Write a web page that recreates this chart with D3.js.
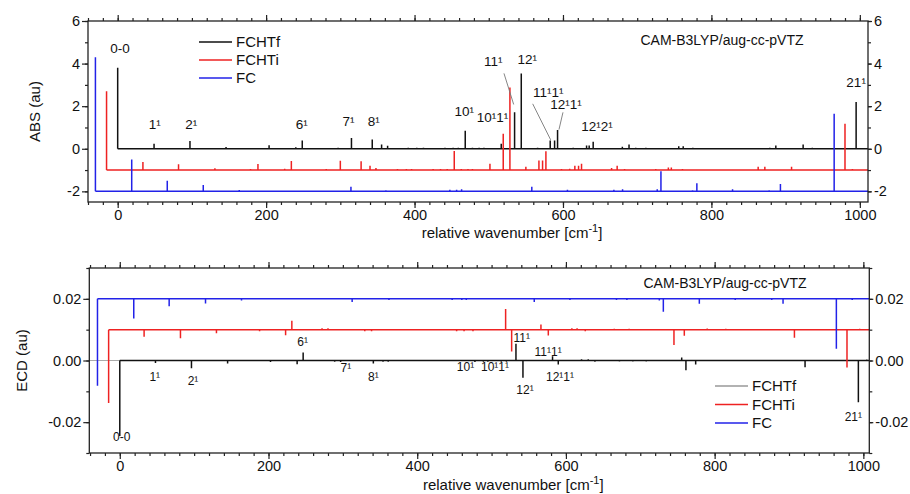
<!DOCTYPE html>
<html>
<head>
<meta charset="utf-8">
<script src="https://cdn.jsdelivr.net/npm/d3@7"></script>
<style>
  body { margin: 0; background: #fff; }
  svg text { font-family: "Liberation Sans", Arial, sans-serif; fill: #111; }
</style>
</head>
<body>
<svg id="chart" width="910" height="494"></svg>
<script>
// ---- series meta ----
const seriesNames = ["FCHTf", "FCHTi", "FC"];
const seriesColors = ["#111111", "#ee2222", "#2222e8"];
const legendColors = [["#111111", "#ee2222", "#2222e8"], ["#999999", "#ee2222", "#2222e8"]];
const seriesShift = [0, -15, -30];          // horizontal offset of each stick spectrum (cm-1)
const absBaseline = [0, -1, -2];            // vertical offset, ABS panel
const ecdBaseline = [0, 0.01, 0.02];        // vertical offset, ECD panel

// ---- ABS stick spectra: [wavenumber, intensity] ----
const absFCHTf = [[0,3.8],[49,0.23],[97.4,0.36],[146,0.08],[204,0.17],[240,0.07],[248.7,0.39],[297,0.05],[315,0.5],[343,0.44],[355.6,0.2],[363.7,0.14],[391.5,0.05],[403,0.05],[412,0.05],[441,0.05],[452,0.05],[459,0.05],[468.3,0.85],[478,0.05],[487,0.05],[493.5,0.05],[516.8,0.24],[534.8,1.72],[543.8,3.54],[565.8,0.05],[582.8,0.39],[588.7,0.39],[592.7,0.88],[613.8,0.05],[631.8,0.15],[635.3,0.15],[640.7,0.33],[680,0.1],[689,0.2],[698,0.05],[711.7,0.05],[756,0.12],[762,0.12],[775,0.05],[878.7,0.05],[886.8,0.15],[923.6,0.2],[936,0.05],[995,2.2]];
const absFCHTi = [[0,3.7],[49,0.38],[97,0.27],[146,0.08],[194,0.05],[204,0.28],[240,0.06],[249,0.42],[296,0.05],[315,0.44],[343,0.41],[355,0.2],[363,0.1],[392,0.05],[404,0.05],[411,0.05],[440,0.05],[450,0.05],[459,0.05],[468.5,0.9],[478,0.05],[487,0.05],[493,0.05],[516.6,0.3],[534.5,1.7],[543.5,3.88],[565,0.15],[582.6,0.45],[587.5,0.45],[592,0.88],[613,0.05],[624,0.06],[631,0.2],[636,0.2],[640,0.3],[680.5,0.1],[688,0.2],[698,0.05],[740,0.05],[757,0.12],[761,0.12],[776,0.05],[878,0.15],[887,0.15],[923,0.15],[995,2.17],[1005,0.05]];
const absFC = [[0,6.3],[48.9,1.5],[96.8,0.5],[145.3,0.3],[193.8,0.06],[246,0.04],[344.3,0.22],[391.4,0.05],[477.6,0.07],[486.7,0.07],[493.4,0.1],[588,0.22],[636,0.08],[698.6,0.08],[710.3,0.1],[757,0.1],[762,0.94],[804.6,0.05],[810.4,0.38],[858.5,0.1],[907.8,0.05],[923,0.35],[995.4,3.65],[1010,0.03]];

// ---- ECD stick spectra: [wavenumber, rotatory strength] ----
const ecdFCHTf = [[0,-0.0245],[48,-0.0008],[96.4,-0.0025],[145,-0.001],[202.7,-0.0005],[238.5,-0.0012],[246.6,0.0026],[289,-0.0004],[297,-0.0005],[341,-0.001],[354,-0.0004],[361,-0.0004],[477.6,-0.0005],[489,-0.0004],[495,-0.0004],[513,-0.0004],[520,-0.0004],[532.8,0.0054],[542.2,-0.0056],[582,0.0014],[589.7,-0.0013],[621,0.0004],[630,0.0004],[639,-0.0004],[672,-0.0003],[690,-0.0003],[708,-0.0003],[755.7,0.001],[761.4,-0.0032],[774.5,-0.0013],[921.6,-0.0022],[993.3,-0.0135],[1004.6,0.0003]];
const ecdFCHTi = [[0,-0.0238],[47.7,-0.0023],[96.6,-0.0028],[145,-0.0012],[203,-0.0005],[238,-0.0018],[246.4,0.0029],[287,0.0005],[295,0.0005],[344.5,-0.0005],[353.6,-0.0005],[468,-0.0005],[478,-0.0005],[490,-0.0005],[533.9,0.0067],[542,-0.0071],[581.4,0.0017],[591.3,-0.0019],[623,0.0005],[630,0.0005],[641,-0.0005],[680,0.0003],[700,0.0003],[760.3,-0.005],[774.2,-0.002],[805,0.0004],[830,0.0003],[922.3,-0.0026],[993,-0.0123],[1010,0.0003]];
const ecdFC = [[0,-0.0282],[48.8,-0.0064],[96.4,-0.0024],[145.3,-0.0015],[193.7,-0.0005],[342.5,-0.001],[392,-0.0004],[477,-0.0004],[490,-0.0004],[496,-0.0004],[587.4,-0.001],[635.4,-0.0004],[698,-0.0004],[712,-0.0004],[755.6,-0.0005],[761,-0.0042],[809.4,-0.0016],[857.7,-0.0004],[906.8,-0.0004],[922,-0.0016],[993.7,-0.0162],[1015,-0.0004]];

// ---- band assignments: [text, wavenumber, value] (text baseline in data units) ----
const absLabels = [["0-0",3,4.5],["1¹",50,0.95],["2¹",99,0.95],["6¹",248,0.95],["7¹",311,1.08],["8¹",345,1.08],["10¹",467,1.56],["10¹1¹",505,1.24],["11¹",506,3.88],["12¹",552,3.96],["11¹1¹",580,2.42],["12¹1¹",604,1.87],["12¹2¹",646,0.85],["21¹",995,2.91]];
const absLeaders = [[520.5,3.54,533.6,2.08],[559.2,2.11,583.4,0.42],[600,1.71,594.6,0.9]];
const ecdLabels = [["0-0",2.5,-0.0261],["1¹",47,-0.0066],["2¹",98.5,-0.0079],["6¹",246,0.0048],["7¹",304,-0.0038],["8¹",341,-0.0066],["10¹",465,-0.0035],["10¹1¹",504.6,-0.0035],["11¹",540.5,0.0059],["12¹",545,-0.0109],["11¹1¹",576,0.0015],["12¹1¹",592,-0.0068],["21¹",986.5,-0.0196]];

// ---- axis ticks ----
const xMajorTicks = [0, 200, 400, 600, 800, 1000];
const xMinorTicks = d3.range(-40, 1020, 20);
const absMajorTicks = [-2, 0, 2, 4, 6];
const absMinorTicks = d3.range(-2, 7, 1);
const ecdMajorTicks = [-0.02, 0, 0.02];
const ecdMinorTicks = [-0.03, -0.02, -0.01, 0, 0.01, 0.02, 0.03];
const methodLabel = "CAM-B3LYP/aug-cc-pVTZ";

// plain hyphen-minus for negative tick labels
const hyphenate = f => d => f(d).replace("\u2212", "-");

const svg = d3.select("#chart");

function drawPanel(cfg) {
  const g = svg.append("g");
  const x = d3.scaleLinear().domain(cfg.xDomain).range(cfg.xRange);
  const y = d3.scaleLinear().domain(cfg.yDomain).range(cfg.yRange);
  const [x0, x1] = cfg.xRange, [yb, yt] = cfg.yRange;

  const clipId = "clip-" + cfg.id;
  svg.append("clipPath").attr("id", clipId)
    .append("rect").attr("x", x0).attr("y", yt).attr("width", x1 - x0).attr("height", yb - yt);

  const plot = g.append("g").attr("clip-path", `url(#${clipId})`);

  if (cfg.zeroLine) {
    plot.append("line").attr("x1", x0).attr("x2", x1)
      .attr("y1", y(0)).attr("y2", y(0))
      .attr("stroke", "#aaaaaa").attr("stroke-width", 1.2);
  }

  // stick spectra: black first, then red, then blue on top
  cfg.series.forEach((data, i) => {
    const base = cfg.baselines[i];
    const sh = seriesShift[i];
    const p = d3.path();
    p.moveTo(x(sh), y(base));
    p.lineTo(x(cfg.xDomain[1]) + 5, y(base));
    data.forEach(([wn, v]) => {
      p.moveTo(x(wn + sh), y(base));
      p.lineTo(x(wn + sh), y(base + v));
    });
    plot.append("path").attr("d", p.toString())
      .attr("fill", "none").attr("stroke", seriesColors[i])
      .attr("stroke-width", 1.5).attr("stroke-linecap", "butt");
  });

  // frame
  g.append("rect").attr("x", x0).attr("y", yt).attr("width", x1 - x0).attr("height", yb - yt)
    .attr("fill", "none").attr("stroke", "#222").attr("stroke-width", 1.3);

  const styleAxis = sel => {
    sel.select(".domain").remove();
    sel.selectAll("line").attr("stroke", "#222").attr("stroke-width", 1.2);
    sel.selectAll("text").style("font-size", "14.5px").attr("fill", "#111");
  };

  // x axes (bottom labelled, top mirrored)
  g.append("g").attr("transform", `translate(0,${yb})`)
    .call(d3.axisBottom(x).tickValues(xMinorTicks).tickSize(3).tickFormat("")).call(styleAxis);
  g.append("g").attr("transform", `translate(0,${yb})`)
    .call(d3.axisBottom(x).tickValues(xMajorTicks).tickSize(6).tickPadding(2).tickFormat(d3.format("d"))).call(styleAxis);
  g.append("g").attr("transform", `translate(0,${yt})`)
    .call(d3.axisTop(x).tickValues(xMinorTicks).tickSize(3).tickFormat("")).call(styleAxis);
  g.append("g").attr("transform", `translate(0,${yt})`)
    .call(d3.axisTop(x).tickValues(xMajorTicks).tickSize(6).tickFormat("")).call(styleAxis);

  // y axes (left and right, both labelled)
  g.append("g").attr("transform", `translate(${x0},0)`)
    .call(d3.axisLeft(y).tickValues(cfg.yMinor).tickSize(3).tickFormat("")).call(styleAxis);
  g.append("g").attr("transform", `translate(${x0},0)`)
    .call(d3.axisLeft(y).tickValues(cfg.yMajor).tickSize(6).tickPadding(2).tickFormat(cfg.yFormat)).call(styleAxis);
  g.append("g").attr("transform", `translate(${x1},0)`)
    .call(d3.axisRight(y).tickValues(cfg.yMinor).tickSize(3).tickFormat("")).call(styleAxis);
  g.append("g").attr("transform", `translate(${x1},0)`)
    .call(d3.axisRight(y).tickValues(cfg.yMajor).tickSize(4).tickPadding(2).tickFormat(cfg.yFormat)).call(styleAxis);

  // axis titles
  g.append("text").attr("transform", `translate(${cfg.yTitleX},${(yb + yt) / 2}) rotate(-90)`)
    .attr("text-anchor", "middle").style("font-size", "15px").text(cfg.yTitle);
  const xt = g.append("text").attr("x", (x0 + x1) / 2 + 34).attr("y", cfg.xTitleY)
    .attr("text-anchor", "middle").style("font-size", "15px");
  xt.append("tspan").text("relative wavenumber [cm");
  xt.append("tspan").attr("dy", -6).style("font-size", "11px").text("-1");
  xt.append("tspan").attr("dy", 6).text("]");

  // method label
  g.append("text").attr("x", cfg.methodX).attr("y", cfg.methodY)
    .attr("text-anchor", "middle").style("font-size", "14px").text(methodLabel);

  // leader lines
  (cfg.leaders || []).forEach(([a, b, c, d]) => {
    g.append("line").attr("x1", x(a)).attr("y1", y(b)).attr("x2", x(c)).attr("y2", y(d))
      .attr("stroke", "#777").attr("stroke-width", 0.9);
  });

  // band labels
  cfg.labels.forEach(([t, wn, v]) => {
    g.append("text").attr("x", x(wn)).attr("y", y(v))
      .attr("text-anchor", "middle").style("font-size", cfg.labelSize).text(t);
  });

  // legend
  const lg = g.append("g");
  seriesNames.forEach((name, i) => {
    const ly = cfg.legendY + i * cfg.legendGap;
    lg.append("line").attr("x1", cfg.legendX).attr("x2", cfg.legendX + 33)
      .attr("y1", ly).attr("y2", ly)
      .attr("stroke", cfg.legendColors[i]).attr("stroke-width", 1.5);
    lg.append("text").attr("x", cfg.legendX + 37).attr("y", ly + 5)
      .style("font-size", "15px").text(name);
  });
}

drawPanel({
  id: "abs",
  xDomain: [-40, 1011], xRange: [88, 868],
  yDomain: [-2.5, 6], yRange: [202, 21],
  yMajor: absMajorTicks, yMinor: absMinorTicks, yFormat: hyphenate(d3.format("d")),
  series: [absFCHTf, absFCHTi, absFC], baselines: absBaseline,
  yTitle: "ABS (au)", yTitleX: 40, xTitleY: 238,
  methodX: 722, methodY: 45,
  labels: absLabels, labelSize: "13.5px", leaders: absLeaders,
  legendX: 199, legendY: 42, legendGap: 18, legendColors: legendColors[0]
});

drawPanel({
  id: "ecd",
  xDomain: [-41, 1008], xRange: [89.3, 869.3],
  yDomain: [-0.03, 0.03], yRange: [453, 268],
  yMajor: ecdMajorTicks, yMinor: ecdMinorTicks, yFormat: hyphenate(d3.format(".2f")),
  series: [ecdFCHTf, ecdFCHTi, ecdFC], baselines: ecdBaseline, zeroLine: true,
  yTitle: "ECD (au)", yTitleX: 27, xTitleY: 490,
  methodX: 725, methodY: 288,
  labels: ecdLabels, labelSize: "12px",
  legendX: 715, legendY: 386, legendGap: 18.5, legendColors: legendColors[1]
});
</script>
</body>
</html>
